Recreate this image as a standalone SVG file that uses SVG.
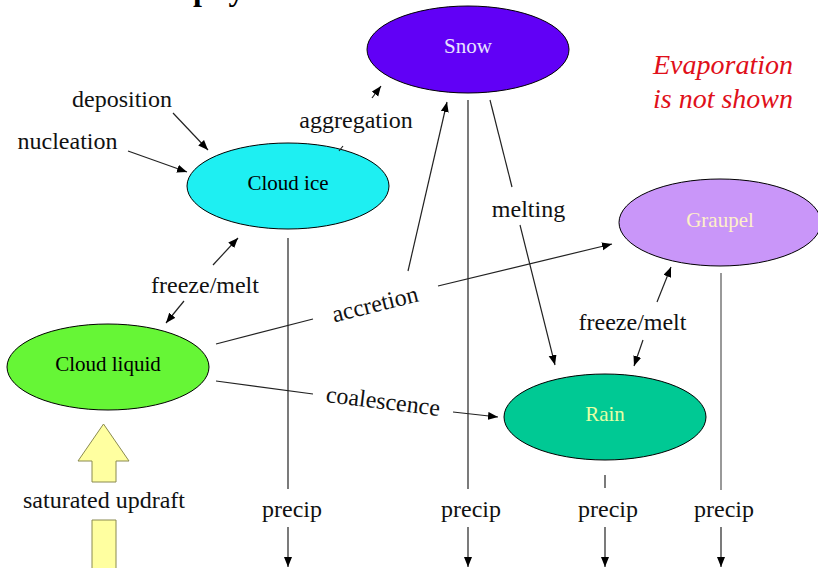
<svg xmlns="http://www.w3.org/2000/svg" width="818" height="568" viewBox="0 0 818 568">
<defs>
<marker id="ah" markerUnits="userSpaceOnUse" markerWidth="11" markerHeight="9" refX="10" refY="4" orient="auto">
<path d="M0,0 L10,4 L0,8 z" fill="#000"/>
</marker>
<style>
.lbl{font-family:"Liberation Serif","Times New Roman",serif;font-size:24px;fill:#111;text-anchor:middle}
.nt{font-family:"Liberation Serif","Times New Roman",serif;font-size:21px;text-anchor:middle}
.ln{stroke:#222;stroke-width:1.2;fill:none}
.ar{stroke:#222;stroke-width:1.2;fill:none;marker-end:url(#ah)}
.node{stroke:#000;stroke-width:1}
</style>
</defs>
<rect width="818" height="568" fill="#fff"/>
<text x="-43" y="0" style="font-family:'Liberation Serif',serif;font-size:32px;font-weight:bold;fill:#000">Bulk cloud microphysics</text>

<g id="snow"><ellipse class="node" cx="468" cy="49.5" rx="101" ry="43.5" fill="#6100F6"/><text class="nt" x="468" y="53" fill="#E8E2FF">Snow</text></g>
<g id="cloud-ice"><ellipse class="node" cx="288" cy="186" rx="101" ry="43" fill="#1EEFF2"/><text class="nt" x="288" y="190" fill="#000">Cloud ice</text></g>
<g id="cloud-liquid"><ellipse class="node" cx="108" cy="367" rx="101" ry="43" fill="#66F636"/><text class="nt" x="108" y="371" fill="#000">Cloud liquid</text></g>
<g id="graupel"><ellipse class="node" cx="720" cy="222.5" rx="101" ry="43.5" fill="#C996F9"/><text class="nt" x="720" y="227" fill="#FFF0C8">Graupel</text></g>
<g id="rain"><ellipse class="node" cx="605" cy="417" rx="101" ry="43" fill="#00C994"/><text class="nt" x="605" y="421" fill="#E6FFA6">Rain</text></g>

<g id="updraft">
<path d="M103.5,424 L129,461 L116,461 L116,482 L92,482 L92,461 L78,461 z" fill="#FFFFA0" stroke="#8A8A50" stroke-width="1"/>
<path d="M92,570 L92,520 L116,520 L116,570" fill="#FFFFA0" stroke="#8A8A50" stroke-width="1"/>
</g>

<g id="connectors">
<line class="ar" x1="173" y1="113" x2="208" y2="150"/>
<line class="ar" x1="128" y1="151" x2="187" y2="172"/>
<line class="ln" x1="339" y1="151" x2="343" y2="146"/>
<line class="ar" x1="372" y1="98" x2="381" y2="86"/>
<line class="ar" x1="213" y1="265" x2="238" y2="238"/>
<line class="ar" x1="184" y1="301" x2="166" y2="323"/>
<line class="ln" x1="216" y1="344" x2="313" y2="319"/>
<line class="ar" x1="438" y1="286" x2="612" y2="244"/>
<line class="ar" x1="408" y1="271" x2="447" y2="102"/>
<line class="ln" x1="490" y1="100" x2="512" y2="187"/>
<line class="ar" x1="520" y1="225" x2="555" y2="365"/>
<line class="ar" x1="657" y1="302" x2="671" y2="267"/>
<line class="ar" x1="643" y1="340" x2="634" y2="366"/>
<line class="ln" x1="216" y1="381" x2="313" y2="394"/>
<line class="ar" x1="453" y1="412" x2="498" y2="417"/>
<line class="ln" x1="288" y1="238" x2="288" y2="489"/>
<line class="ln" x1="468" y1="100" x2="468" y2="489"/>
<line class="ln" x1="605" y1="475" x2="605" y2="488"/>
<line class="ln" x1="721" y1="273" x2="721" y2="490" style="stroke:#555"/>
<line class="ar" x1="288" y1="527" x2="288" y2="567"/>
<line class="ar" x1="468" y1="527" x2="468" y2="567"/>
<line class="ar" x1="605" y1="527" x2="605" y2="567"/>
<line class="ar" x1="721" y1="527" x2="721" y2="567"/>
</g>

<g id="labels">
<text class="lbl" x="122" y="107">deposition</text>
<text class="lbl" x="67.5" y="149">nucleation</text>
<text class="lbl" x="356" y="128">aggregation</text>
<text class="lbl" x="205" y="293">freeze/melt</text>
<text class="lbl" x="528.5" y="217">melting</text>
<text class="lbl" x="632.5" y="330">freeze/melt</text>
<text class="lbl" transform="rotate(-14 375 304)" x="375" y="312">accretion</text>
<text class="lbl" transform="rotate(7 383 402)" x="383" y="409">coalescence</text>
<text class="lbl" x="104" y="508">saturated updraft</text>
<text class="lbl" x="292" y="517">precip</text>
<text class="lbl" x="471" y="517">precip</text>
<text class="lbl" x="608" y="517">precip</text>
<text class="lbl" x="724" y="517">precip</text>
<text x="793" y="74" style="font-family:'Liberation Serif',serif;font-style:italic;font-size:28px;fill:#E0101A;text-anchor:end">Evaporation</text>
<text x="793" y="108" style="font-family:'Liberation Serif',serif;font-style:italic;font-size:28px;fill:#E0101A;text-anchor:end">is not shown</text>
</g>
</svg>
